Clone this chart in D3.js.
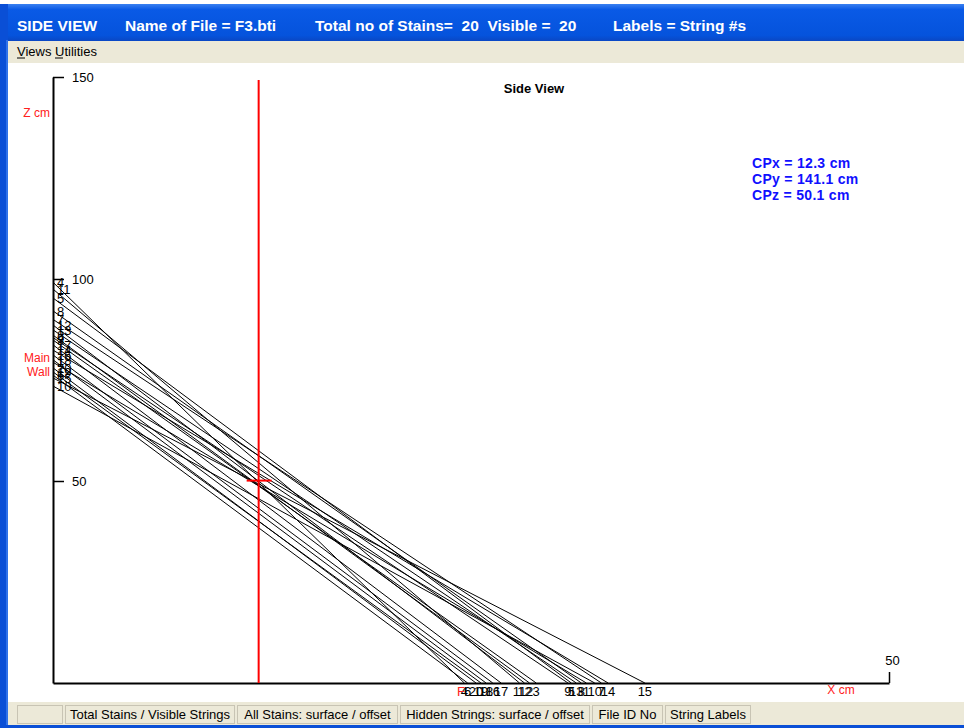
<!DOCTYPE html>
<html><head><meta charset="utf-8">
<script src="https://cdn.jsdelivr.net/npm/d3@7"></script>
<style>
body{margin:0;background:#fff;}
svg{display:block;font-family:"Liberation Sans",Arial,sans-serif;}
</style></head>
<body><svg id="c" width="964" height="728"></svg>
<script>
// ---- data ----
const stringIds = [4, 11, 5, 8, 7, 12, 13, 2, 9, 3, 17, 14, 16, 18, 1, 20, 19, 6, 15, 10];
const wallZ     = [99.2, 97.5, 95.3, 92.1, 90.0, 88.6, 87.4, 86.1, 85.5, 84.9, 83.7, 82.4, 81.2, 80.0, 79.4, 78.0, 77.0, 76.2, 75.5, 73.5];
const floorX    = [24.6, 27.9, 31.0, 31.6, 32.8, 28.2, 31.3, 28.5, 30.8, 28.9, 26.8, 33.2, 26.3, 25.9, 31.9, 25.3, 25.6, 24.8, 35.4, 32.4];
const zTicks = [50, 100, 150];
const xTicks = [50];
const convergence = {x: 12.3, y: 141.1, z: 50.1};
const titleParts = ["SIDE VIEW", "Name of File = F3.bti", "Total no of Stains=  20  Visible =  20", "Labels = String #s"];
const titleX = [17, 125, 315, 613];
const menuItems = ["Views", "Utilities"];
const statusPanels = ["", "Total Stains / Visible Strings", "All Stains: surface / offset", "Hidden Strings: surface / offset", "File ID No", "String Labels"];
const statusWidths = [48, 172, 163, 192, 73, 88];

const svg = d3.select("#c");

// window chrome
const defs = svg.append("defs");
const g1 = defs.append("linearGradient").attr("id","tb").attr("x1",0).attr("y1",0).attr("x2",0).attr("y2",1);
g1.append("stop").attr("offset","0%").attr("stop-color","#3a80f0");
g1.append("stop").attr("offset","15%").attr("stop-color","#0a5ae6");
g1.append("stop").attr("offset","85%").attr("stop-color","#0553dc");
g1.append("stop").attr("offset","100%").attr("stop-color","#0a47c4");
svg.append("rect").attr("x",0).attr("y",0).attr("width",964).attr("height",728).attr("fill","#fff");
svg.append("rect").attr("x",0).attr("y",4).attr("width",964).attr("height",37).attr("fill","url(#tb)");
svg.append("rect").attr("x",0).attr("y",4).attr("width",8).attr("height",724).attr("fill","#0a4fd6");
svg.append("rect").attr("x",6).attr("y",40).attr("width",2).attr("height",688).attr("fill","#2f72ea");
svg.append("rect").attr("x",0).attr("y",725).attr("width",964).attr("height",3).attr("fill","#0a4fd6");
svg.selectAll("text.tt").data(titleParts).join("text").attr("class","tt")
  .attr("x",(d,i)=>titleX[i]).attr("y",31)
  .attr("fill","#fff").attr("font-weight","bold").attr("font-size",15.5)
  .style("white-space","pre").text(d=>d);

// menu
svg.append("rect").attr("x",8).attr("y",41).attr("width",956).attr("height",22).attr("fill","#ece9d8");
const menuX = [17, 55];
svg.selectAll("text.mi").data(menuItems).join("text").attr("class","mi")
  .attr("x",(d,i)=>menuX[i]).attr("y",56).attr("font-size",13).attr("fill","#000")
  .text(d=>d);
svg.selectAll("line.ul").data(menuItems).join("line").attr("class","ul")
  .attr("x1",(d,i)=>menuX[i]).attr("x2",(d,i)=>menuX[i]+8).attr("y1",58).attr("y2",58)
  .attr("stroke","#000").attr("stroke-width",1);

// status bar
svg.append("rect").attr("x",8).attr("y",702).attr("width",956).attr("height",23).attr("fill","#ece9d8");
let sx = 17;
statusPanels.forEach((t,i)=>{
  const w = statusWidths[i];
  svg.append("rect").attr("x",sx+0.5).attr("y",705.5).attr("width",w-3).attr("height",18)
    .attr("fill","none").attr("stroke","#c8c4b4");
  svg.append("text").attr("x",sx+w/2-1).attr("y",719).attr("text-anchor","middle")
    .attr("font-size",13).attr("fill","#000").text(t);
  sx += w;
});

// scales
const x = d3.scaleLinear().domain([0,50]).range([53,889]);
const y = d3.scaleLinear().domain([0,150]).range([683,77]);

// axes
const ya = svg.append("g").attr("transform",`translate(${x(0)},0)`)
  .call(d3.axisRight(y).tickValues(zTicks).tickSize(11).tickSizeOuter(0).tickPadding(8).tickFormat(d3.format("d")));
ya.select(".domain").attr("stroke","#000").attr("stroke-width",2);
ya.selectAll(".tick line").attr("stroke","#000").attr("stroke-width",1.5);
ya.selectAll(".tick text").attr("font-size",13).attr("fill","#000").attr("font-family","'Liberation Sans',Arial,sans-serif");

const xa = svg.append("g").attr("transform",`translate(0,${y(0)})`)
  .call(d3.axisTop(x).tickValues(xTicks).tickSize(11).tickSizeOuter(0).tickPadding(7).tickFormat(d3.format("d")));
xa.select(".domain").attr("stroke","#000").attr("stroke-width",2);
xa.selectAll(".tick line").attr("stroke","#000").attr("stroke-width",1.5);
xa.selectAll(".tick text").attr("font-size",13).attr("fill","#000").attr("dx",3).attr("font-family","'Liberation Sans',Arial,sans-serif");

// axis titles
svg.append("text").attr("x",50).attr("y",117).attr("text-anchor","end").attr("fill","#ff2020").attr("font-size",12).text("Z cm");
svg.append("text").attr("x",50).attr("y",362).attr("text-anchor","end").attr("fill","#ff2020").attr("font-size",12).text("Main");
svg.append("text").attr("x",50).attr("y",376).attr("text-anchor","end").attr("fill","#ff2020").attr("font-size",12).text("Wall");
svg.append("text").attr("x",841).attr("y",694).attr("text-anchor","middle").attr("fill","#ff2020").attr("font-size",12).text("X cm");
svg.append("text").attr("x",534).attr("y",93).attr("text-anchor","middle").attr("font-weight","bold").attr("font-size",13).text("Side View");

// convergence text
const cpLines = [`CPx = ${convergence.x} cm`, `CPy = ${convergence.y} cm`, `CPz = ${convergence.z} cm`];
svg.selectAll("text.cp").data(cpLines).join("text").attr("class","cp")
  .attr("x",752).attr("y",(d,i)=>168+i*16).attr("fill","#1010ff").attr("font-weight","bold").attr("font-size",14)
  .attr("letter-spacing",0.3).text(d=>d);

// strings
const data = stringIds.map((id,i)=>({id, z0: wallZ[i], x1: floorX[i]}));
svg.append("g").selectAll("line").data(data).join("line")
  .attr("x1",x(0)).attr("y1",d=>y(d.z0)).attr("x2",d=>x(d.x1)).attr("y2",y(0))
  .attr("stroke","#000").attr("stroke-width",1);

// left labels
svg.append("g").selectAll("text").data(data).join("text")
  .attr("x",x(0)+4).attr("y",d=>y(d.z0)+5).attr("font-size",13).attr("fill","#000").text(d=>d.id);
// floor labels
svg.append("g").selectAll("text").data(data).join("text")
  .attr("x",d=>x(d.x1)).attr("y",y(0)+13).attr("text-anchor","middle").attr("font-size",13).attr("fill","#000").text(d=>d.id);
svg.append("text").attr("x",x(24.4)).attr("y",y(0)+13).attr("text-anchor","middle").attr("font-size",13).attr("fill","#ff2020").text("F");

// convergence marker
svg.append("line").attr("x1",x(convergence.x)).attr("x2",x(convergence.x)).attr("y1",80).attr("y2",y(0))
  .attr("stroke","#ff0000").attr("stroke-width",2);
svg.append("line").attr("x1",x(convergence.x)-12).attr("x2",x(convergence.x)+13).attr("y1",y(convergence.z)).attr("y2",y(convergence.z))
  .attr("stroke","#ff0000").attr("stroke-width",2);
</script></body></html>
